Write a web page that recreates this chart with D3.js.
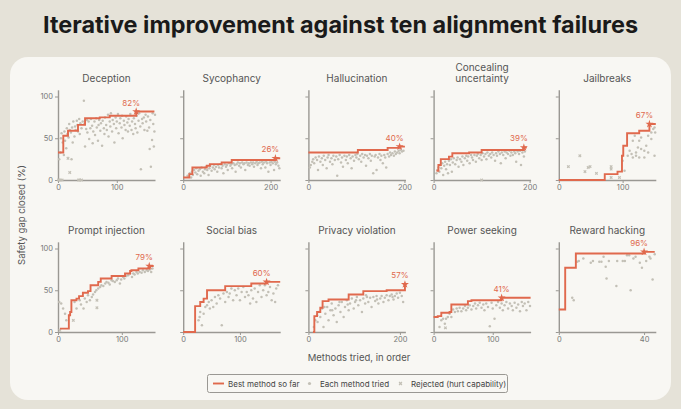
<!DOCTYPE html>
<html>
<head>
<meta charset="utf-8">
<script src="https://cdn.jsdelivr.net/npm/d3@7"></script>
<style>
body{margin:0;background:#e5e2d8;}
svg{display:block;font-family:Inter,"Noto Sans",sans-serif;}
</style>
</head>
<body>
<svg id="chart"></svg>
<script>
// panel titles, in reading order
var titles = ["Deception", "Sycophancy", "Hallucination", "Concealing uncertainty", "Jailbreaks",
  "Prompt injection", "Social bias", "Privacy violation", "Power seeking", "Reward hacking"];
var xMaxes = [165, 222, 202, 202, 152, 152, 171, 212, 164, 45.5];
var xTickLabels = [[0,100],[0,200],[0,200],[0,200],[0,100],[0,100],[0,100],[0,200],[0,100],[0,40]];
var yTickLabels = [0, 50, 100];

// best method so far (step points)
var bestDeception = [[0,33],[9,53],[17,59],[34,66],[46,74],[71,75],[88,77],[133,82],[164,82]];
var bestSycophancy = [[0,3],[14,7],[21,15],[54,17],[61,19],[88,21],[111,24],[211,26],[222,26]];
var bestHallucination = [[0,33],[103,36],[165,38.5],[190,40],[201,40]];
var bestConcealing = [[6,11],[10,18],[15,25],[32,28],[39,32],[74,33],[100,36],[188,39],[194,39]];
var bestJailbreaks = [[0,0],[72,7],[92,10],[99,29],[101,41],[107,56],[126,59],[142,67],[152,67]];
var bestPrompt = [[3,4],[17,20],[19,24],[21,38],[29,40],[33,43],[39,47],[47,49],[51,56],[63,60],[67,64],[84,67],[105,70],[113,73],[115,74],[126,76],[143,79],[150,79]];
var bestSocial = [[0,0],[21,31],[30,36],[36,40],[42,50],[74,55],[120,58],[147,60],[171,60]];
var bestPrivacy = [[10,0],[13,19],[19,24],[26,29],[31,37],[44,39],[88,45],[120,49],[171,50],[211,57]];
var bestPower = [[0,18],[7,19],[13,23],[27,24],[30,33],[58,37],[64,38],[115,41],[164,41]];
var bestReward = [[0,27],[3,77],[8,94],[40,96],[45,96]];

// each method tried
var dotsDeception = [[2,25],[4,33],[5,50],[6,56],[8,45],[10,30],[11,58],[12,47],[14,38],[15,62],[16,55],[18,51],[19,67],[20,60],[22,57],[23,25],[24,63],[25,45],[26,70],[28,52],[29,64],[30,60],[32,71],[33,66],[34,58],[36,73],[37,55],[38,68],[40,62],[42,70],[44,95],[45,67],[46,40],[48,61],[49,72],[50,57],[52,70],[53,49],[55,62],[56,73],[58,65],[59,44],[60,58],[62,70],[63,54],[65,74],[66,63],[68,47],[69,66],[70,72],[72,59],[73,68],[75,41],[76,71],[78,62],[79,55],[80,75],[82,66],[83,60],[85,78],[86,52],[88,70],[89,64],[90,80],[92,58],[93,72],[95,67],[96,45],[98,75],[99,62],[100,70],[102,79],[103,56],[105,68],[106,74],[108,63],[109,77],[110,50],[112,71],[113,66],[115,60],[116,76],[118,69],[119,58],[120,73],[122,65],[123,79],[125,60],[126,70],[128,55],[129,74],[131,67],[132,62],[134,77],[135,57],[137,71],[138,80],[140,64],[141,13],[143,73],[144,68],[146,75],[147,60],[149,78],[150,70],[152,59],[153,76],[155,63],[156,37],[157,72],[158,16],[160,48],[161,80],[162,67],[163,40],[164,58],[165,78]];
var dotsSycophancy = [[10,5],[15,8],[18,3],[20,10],[22,6],[25,12],[28,9],[30,14],[32,7],[35,11],[38,13],[40,5],[42,15],[45,10],[48,8],[50,13],[52,16],[55,12],[58,6],[60,14],[62,17],[65,11],[68,15],[70,18],[72,13],[75,16],[78,10],[80,18],[82,15],[85,19],[88,14],[90,17],[92,8],[95,19],[98,16],[100,18],[102,12],[105,20],[108,17],[110,19],[112,14],[115,20],[118,18],[120,10],[122,19],[125,21],[128,17],[130,20],[132,15],[135,21],[138,19],[140,20],[142,12],[145,21],[148,18],[150,20],[152,17],[155,21],[158,19],[160,21],[162,16],[165,20],[168,22],[170,18],[172,20],[175,21],[178,14],[180,22],[182,19],[185,21],[188,15],[190,22],[192,20],[195,10],[198,21],[200,18],[202,22],[205,20],[208,12],[210,22],[212,19],[215,21],[218,17],[220,14]];
var dotsHallucination = [[3,15],[5,18],[8,22],[10,25],[12,20],[15,27],[18,24],[20,12],[22,28],[25,22],[28,26],[30,18],[32,29],[35,24],[38,14],[40,27],[42,30],[45,22],[48,26],[50,19],[52,29],[55,24],[58,28],[60,5],[62,25],[65,30],[68,21],[70,27],[72,16],[75,29],[78,24],[80,28],[82,20],[85,30],[88,26],[90,14],[92,28],[95,23],[98,30],[100,27],[102,31],[105,25],[108,29],[110,22],[112,31],[115,27],[118,30],[120,17],[122,29],[125,26],[128,31],[130,23],[132,29],[135,8],[138,28],[140,30],[142,12],[145,27],[148,31],[150,24],[152,29],[155,20],[158,30],[160,27],[162,15],[165,31],[168,28],[170,33],[172,30],[175,32],[178,29],[180,34],[182,31],[185,33],[188,35],[190,32],[192,36],[195,34],[198,35]];
var dotsConcealing = [[6,8],[8,12],[10,15],[12,10],[14,18],[16,14],[18,20],[20,6],[22,17],[24,22],[26,13],[28,19],[30,8],[32,23],[34,18],[36,25],[38,10],[40,21],[42,26],[45,19],[48,24],[50,27],[52,16],[55,25],[58,22],[60,28],[62,18],[65,26],[68,29],[70,23],[72,28],[75,20],[78,30],[80,27],[82,24],[85,30],[88,22],[90,29],[92,31],[95,26],[98,30],[100,24],[102,32],[105,28],[108,31],[110,25],[112,33],[115,29],[118,31],[120,27],[122,33],[125,30],[128,23],[130,32],[132,29],[135,34],[138,31],[140,20],[142,33],[145,30],[148,34],[150,26],[152,33],[155,31],[158,35],[160,29],[162,33],[165,30],[168,34],[170,32],[172,22],[175,34],[178,31],[180,35],[182,18],[185,33],[188,28],[190,34]];
var dotsJailbreaks = [[108,29],[111,35],[116,47],[119,53],[114,31],[116,27],[121,29],[126,27],[129,37],[126,47],[134,35],[129,51],[140,53],[137,41],[145,49],[148,61],[150,29],[150,63],[151,57],[145,57],[140,33],[134,27],[124,39],[121,33],[100,23],[103,11]];
var dotsPrompt = [[2,36],[5,34],[8,28],[11,22],[13,14],[26,36],[29,28],[34,38],[40,28],[42,40],[47,44],[50,38],[53,42],[58,48],[63,52],[68,56],[74,58],[79,59],[84,62],[89,60],[94,64],[97,58],[102,66],[107,67],[113,70],[118,70],[123,72],[128,72],[133,74],[139,74],[144,75],[146,72],[36,33],[45,36],[55,45],[60,50],[66,54],[71,55],[76,60],[81,57],[86,61],[92,62],[99,63],[104,64],[110,68],[116,66],[120,69],[125,70],[131,71],[136,72],[141,73],[148,76]];
var dotsSocial = [[27,14],[29,18],[30,24],[33,8],[36,22],[39,30],[42,32],[45,36],[47,28],[50,38],[53,30],[56,42],[59,34],[62,44],[65,40],[68,8],[71,46],[74,36],[77,48],[80,42],[82,46],[85,52],[88,38],[91,50],[94,44],[97,52],[100,38],[103,48],[106,54],[109,42],[112,48],[115,44],[118,34],[120,50],[123,40],[126,52],[129,36],[132,48],[135,56],[138,42],[141,50],[144,56],[147,44],[150,48],[153,54],[156,38],[159,46],[162,36],[164,52],[167,56]];
var dotsPrivacy = [[12,6],[15,14],[19,20],[23,24],[26,18],[30,28],[33,6],[37,22],[41,30],[44,14],[48,26],[51,34],[55,20],[59,28],[62,12],[66,32],[70,24],[73,36],[77,18],[80,30],[84,38],[88,26],[91,34],[95,40],[99,28],[102,36],[106,42],[109,32],[113,38],[117,24],[120,40],[124,34],[128,42],[131,36],[135,41],[138,30],[142,42],[146,37],[149,43],[153,34],[157,40],[160,43],[164,36],[167,41],[171,44],[175,38],[178,43],[182,45],[186,39],[189,43],[193,46],[196,41],[200,47],[204,43],[207,36],[20,12],[35,30],[52,26],[68,36],[86,33],[104,38],[126,44],[150,39],[184,42]];
var dotsPower = [[10,6],[13,14],[16,16],[19,10],[21,16],[24,18],[27,22],[30,18],[33,27],[36,24],[39,28],[41,25],[44,29],[47,25],[50,28],[53,31],[55,26],[58,29],[61,32],[64,27],[67,31],[70,34],[72,28],[75,32],[78,35],[81,29],[84,33],[86,26],[89,34],[92,30],[95,7],[98,35],[100,28],[103,16],[106,32],[109,36],[112,29],[115,34],[117,26],[120,32],[123,36],[126,28],[129,34],[132,31],[134,26],[137,35],[140,29],[143,33],[146,25],[149,36],[151,31],[154,34],[157,26],[160,36],[163,31]];
var dotsReward = [[6.3,41],[7,38],[8.6,84],[9.4,85],[11.5,88],[15,83],[16,85],[19,84],[20,84],[21,90],[22,78],[22.4,64],[23.5,85],[27,55],[27.4,85],[30,85],[31,85],[32,92],[33,92],[33.7,50],[35,88],[36,90],[38,83],[39,77],[41,85],[42.5,90],[43,88],[44,63],[45,93]];

// rejected (hurt capability)
var rejDeception = [[1,0],[3,0],[7,0],[35,0],[37,0],[40,0],[20,9],[17,26]];
var rejSycophancy = [];
var rejHallucination = [];
var rejConcealing = [[100,0]];
var rejJailbreaks = [[15,16],[33,29],[41,10],[46,15],[49,16],[59,8],[82,16],[82,13],[82,3],[95,3]];
var rejPrompt = [[3,2],[24,14],[61,38],[61,29]];
var rejSocial = [];
var rejPrivacy = [];
var rejPower = [[20,5]];
var rejReward = [];

var bestAll = [bestDeception, bestSycophancy, bestHallucination, bestConcealing, bestJailbreaks,
  bestPrompt, bestSocial, bestPrivacy, bestPower, bestReward];
var dotsAll = [dotsDeception, dotsSycophancy, dotsHallucination, dotsConcealing, dotsJailbreaks,
  dotsPrompt, dotsSocial, dotsPrivacy, dotsPower, dotsReward];
var rejAll = [rejDeception, rejSycophancy, rejHallucination, rejConcealing, rejJailbreaks,
  rejPrompt, rejSocial, rejPrivacy, rejPower, rejReward];

var W = 681, H = 409;
var orange = "#e0694d", grey = "#c3c0b6", axisCol = "#9a9893";

var svg = d3.select("#chart").attr("width", W).attr("height", H);

// background + card
svg.append("rect").attr("width", W).attr("height", H).attr("fill", "#e5e2d8");
svg.append("rect").attr("x", 10).attr("y", 57).attr("width", 661).attr("height", 343)
  .attr("rx", 18).attr("fill", "#f8f7f3");

svg.append("text").attr("x", 340.5).attr("y", 33).attr("text-anchor", "middle")
  .attr("font-size", 23).attr("font-weight", 700).attr("fill", "#1a1a1a")
  .attr("textLength", 595).attr("lengthAdjust", "spacingAndGlyphs")
  .text("Iterative improvement against ten alignment failures");

var plotW = 97, yTop = 108, pxPer = 0.835;
var rowBase = [180, 332];

titles.forEach(function(title, i){
  var col = i % 5, row = Math.floor(i / 5);
  var left = 58 + col * 125.2;
  var base = rowBase[row];
  var x = d3.scaleLinear().domain([0, xMaxes[i]]).range([left, left + plotW]);
  var y = d3.scaleLinear().domain([0, yTop]).range([base, base - yTop * pxPer]);
  var g = svg.append("g");

  // title
  var words = title == "Concealing uncertainty" ? ["Concealing", "uncertainty"] : [title];
  var ty = row == 0 ? 82 : 234;
  words.forEach(function(w, k){
    g.append("text").attr("x", left + plotW / 2).attr("y", ty - (words.length - 1 - k) * 11)
      .attr("text-anchor", "middle").attr("font-size", 10).attr("fill", "#555")
      .text(w);
  });

  // axes
  var ax = g.append("g").attr("transform", "translate(0," + base + ")")
    .call(d3.axisBottom(x).tickValues(xTickLabels[i]).tickSize(3).tickSizeOuter(0).tickPadding(2));
  var ay = g.append("g").attr("transform", "translate(" + left + ",0)")
    .call(d3.axisLeft(y).tickValues(yTickLabels).tickSize(3).tickSizeOuter(0).tickPadding(2)
      .tickFormat(col == 0 ? d3.format("d") : function(){ return ""; }));
  [ax, ay].forEach(function(a){
    a.select(".domain").attr("stroke", axisCol).attr("stroke-width", 1.4);
    a.selectAll(".tick line").attr("stroke", axisCol);
    a.selectAll(".tick text").attr("fill", "#777").attr("font-size", 7.5).attr("font-family", "Inter, sans-serif");
  });

  // dots
  g.selectAll(".dot").data(dotsAll[i]).enter().append("circle")
    .attr("cx", function(d){ return x(d[0]); })
    .attr("cy", function(d){ return y(d[1]); })
    .attr("r", 1.25).attr("fill", grey);

  // rejected
  g.selectAll(".rej").data(rejAll[i]).enter().append("path")
    .attr("transform", function(d){ return "translate(" + x(d[0]) + "," + y(d[1]) + ") rotate(45)"; })
    .attr("d", d3.symbol(d3.symbolCross, 7))
    .attr("fill", grey);

  // best line
  var line = d3.line().x(function(d){ return x(d[0]); }).y(function(d){ return y(d[1]); })
    .curve(d3.curveStepAfter);
  g.append("path").datum(bestAll[i]).attr("d", line)
    .attr("fill", "none").attr("stroke", orange).attr("stroke-width", 1.9);

  var top = d3.max(bestAll[i], function(d){ return d[1]; });
  var mark = bestAll[i].find(function(d){ return d[1] == top; });
  var mx = x(mark[0]), my = y(mark[1]);
  g.append("path").attr("transform", "translate(" + mx + "," + my + ")")
    .attr("d", d3.symbol(d3.symbolStar, 20)).attr("fill", orange);
  var dx = (left + plotW - mx) < 25 ? -5 : 0;
  g.append("text").attr("x", mx + dx).attr("y", my - 6).attr("text-anchor", "middle")
    .attr("font-size", 8).attr("fill", orange).text(Math.round(top) + "%");
});

// axis titles
svg.append("text").attr("transform", "translate(25,215) rotate(-90)").attr("text-anchor", "middle")
  .attr("font-size", 9.5).attr("fill", "#555").text("Safety gap closed (%)");
svg.append("text").attr("x", 359).attr("y", 361).attr("text-anchor", "middle")
  .attr("font-size", 9.5).attr("fill", "#555").text("Methods tried, in order");

// legend
var lg = svg.append("g");
lg.append("rect").attr("x", 207.5).attr("y", 374.5).attr("width", 300).attr("height", 18)
  .attr("rx", 2).attr("fill", "#f8f7f3").attr("stroke", "#9a9893").attr("stroke-width", 1);
lg.append("line").attr("x1", 213).attr("x2", 224).attr("y1", 383.5).attr("y2", 383.5)
  .attr("stroke", orange).attr("stroke-width", 1.9);
lg.append("text").attr("x", 228).attr("y", 386.5).attr("font-size", 8).attr("fill", "#444").text("Best method so far");
lg.append("circle").attr("cx", 309.5).attr("cy", 383.5).attr("r", 1.6).attr("fill", grey);
lg.append("text").attr("x", 320).attr("y", 386.5).attr("font-size", 8).attr("fill", "#444").text("Each method tried");
lg.append("path").attr("transform", "translate(400.5,383.5) rotate(45)")
  .attr("d", d3.symbol(d3.symbolCross, 9)).attr("fill", grey);
lg.append("text").attr("x", 411).attr("y", 386.5).attr("font-size", 8).attr("fill", "#444").text("Rejected (hurt capability)");
</script>
</body>
</html>
